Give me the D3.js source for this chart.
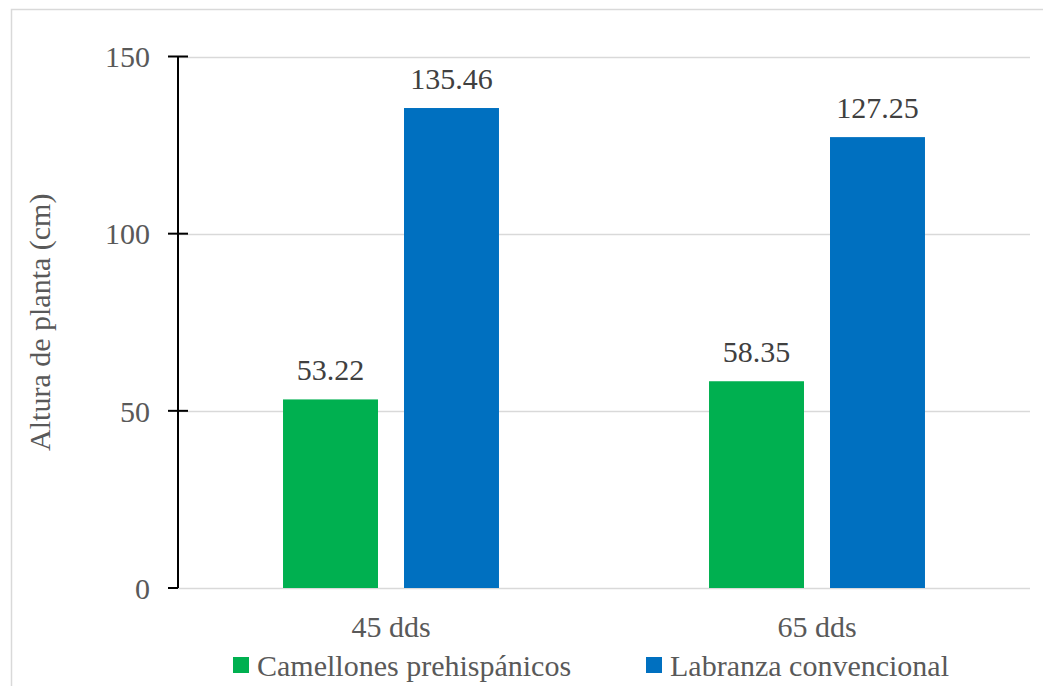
<!DOCTYPE html>
<html>
<head>
<meta charset="utf-8">
<script src="https://cdn.jsdelivr.net/npm/d3@7"></script>
</head>
<body style="margin:0">
<div id="chart"></div>
<script>
  // data
  const categories = ['45 dds', '65 dds'];
  const seriesNames = ['Camellones prehisp\u00e1nicos', 'Labranza convencional'];
  const camellones = [53.22, 58.35];
  const labranza = [135.46, 127.25];
  const yTicks = [0, 50, 100, 150];
  const colors = ['#00b050', '#0070c0'];

  const width = 1043, height = 686;
  const plot = { left: 178, right: 1030, top: 56.5, bottom: 588 };

  const svg = d3.select('#chart')
    .append('svg')
    .attr('width', width)
    .attr('height', height)
    .style('display', 'block')
    .style('font-family', 'Times New Roman');

  // every label: 30px, grey
  function label(sel, color) {
    sel.style('font-family', 'Times New Roman')
      .style('font-size', '30px')
      .style('fill', color || '#595959');
  }

  // outer frame of the chart area
  svg.append('rect')
    .attr('x', 11.5)
    .attr('y', 9.5)
    .attr('width', 1100)
    .attr('height', 700)
    .attr('fill', 'none')
    .attr('stroke', '#d9d9d9')
    .attr('stroke-width', 1.5);

  let y = d3.scaleLinear()
    .domain([0, 150])
    .range([plot.bottom, plot.top]);

  let x = d3.scaleBand()
    .domain(categories)
    .range([plot.left, plot.right]);

  let xs = d3.scaleBand()
    .domain([0, 1])
    .range([0, x.bandwidth()])
    .paddingInner(0.215)
    .paddingOuter(0.868);

  // gridlines
  svg.append('g')
    .selectAll('line')
    .data(yTicks)
    .enter()
    .append('line')
      .attr('x1', plot.left)
      .attr('x2', plot.right)
      .attr('y1', d => Math.round(y(d)) + 0.5)
      .attr('y2', d => Math.round(y(d)) + 0.5)
      .attr('stroke', '#d9d9d9')
      .attr('stroke-width', 1.5);

  // bars
  const rows = categories.map((c, i) => ({ cat: c, values: [camellones[i], labranza[i]] }));

  const groups = svg.append('g')
    .selectAll('g')
    .data(rows)
    .enter()
    .append('g')
      .attr('transform', d => 'translate(' + x(d.cat) + ',0)');

  groups.selectAll('rect')
    .data(d => d.values.map((v, k) => ({ k: k, v: v })))
    .enter()
    .append('rect')
      .attr('x', d => xs(d.k))
      .attr('y', d => y(d.v))
      .attr('width', xs.bandwidth())
      .attr('height', d => y(0) - y(d.v))
      .attr('fill', d => colors[d.k]);

  groups.selectAll('text')
    .data(d => d.values.map((v, k) => ({ k: k, v: v })))
    .enter()
    .append('text')
      .attr('x', d => xs(d.k) + xs.bandwidth() / 2)
      .attr('y', d => y(d.v) - 19)
      .attr('text-anchor', 'middle')
      .call(label, '#404040')
      .text(d => d.v.toFixed(2));

  // y axis
  const yAxis = svg.append('g');
  yAxis.append('line')
    .attr('x1', plot.left)
    .attr('x2', plot.left)
    .attr('y1', y(150))
    .attr('y2', y(0))
    .attr('stroke', '#000')
    .attr('stroke-width', 2);

  yAxis.selectAll('.tick')
    .data(yTicks)
    .enter()
    .append('line')
      .attr('x1', plot.left - 10)
      .attr('x2', d => d === 0 ? plot.left : plot.left + 10)
      .attr('y1', d => y(d))
      .attr('y2', d => y(d))
      .attr('stroke', '#000')
      .attr('stroke-width', 2);

  yAxis.selectAll('text')
    .data(yTicks)
    .enter()
    .append('text')
      .attr('x', 150)
      .attr('y', d => y(d))
      .attr('dy', '0.36em')
      .attr('text-anchor', 'end')
      .call(label)
      .text(d => d);

  svg.append('text')
    .attr('transform', 'translate(50,' + ((plot.top + plot.bottom) / 2) + ') rotate(-90)')
    .attr('text-anchor', 'middle')
    .call(label)
    .text('Altura de planta (cm)');

  // category labels
  svg.append('g')
    .selectAll('text')
    .data(categories)
    .enter()
    .append('text')
      .attr('x', d => x(d) + x.bandwidth() / 2)
      .attr('y', 637)
      .attr('text-anchor', 'middle')
      .call(label)
      .text(d => d);

  // legend
  const legendX = [233, 646];
  const legend = svg.append('g')
    .selectAll('g')
    .data(seriesNames)
    .enter()
    .append('g')
      .attr('transform', (d, i) => 'translate(' + legendX[i] + ',657)');

  legend.append('rect')
    .attr('width', 16)
    .attr('height', 16)
    .attr('fill', (d, i) => colors[i]);

  legend.append('text')
    .attr('x', 24)
    .attr('y', 19)
    .call(label)
    .text(d => d);
</script>
</body>
</html>
